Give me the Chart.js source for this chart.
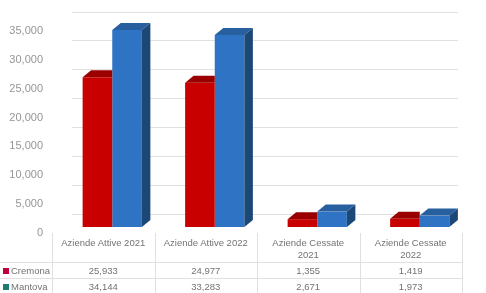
<!DOCTYPE html>
<html><head><meta charset="utf-8">
<script src="https://cdn.jsdelivr.net/npm/chart.js@4"></script>
<style>
html,body{margin:0;padding:0;background:#fff;}
#wrap{position:relative;width:486px;height:293px;overflow:hidden;background:#fff;}
canvas{position:absolute;left:0;top:0;}
.cell{position:absolute;font:9.5px "Liberation Sans",Arial,sans-serif;color:#737373;text-align:center;line-height:12px;white-space:nowrap;}
.lab{text-align:left;}
.vl{position:absolute;width:1px;background:#e0e0e0;}
.hl{position:absolute;height:1px;background:#e0e0e0;}
.key{position:absolute;width:6px;height:6px;}
</style></head>
<body><div id="wrap"><canvas id="c" width="486" height="293"></canvas><div id="tbl"></div></div>
<script>
const categories = [["Aziende Attive 2021"], ["Aziende Attive 2022"], ["Aziende Cessate", "2021"], ["Aziende Cessate", "2022"]];
const seriesNames = ["Cremona", "Mantova"];
const cremona = [25933, 24977, 1355, 1419];
const mantova = [34144, 33283, 2671, 1973];
const yTicks = [0, 5000, 10000, 15000, 20000, 25000, 30000, 35000];

const fmt = v => v.toLocaleString('en-US');
const DX = 8.5, DY = 7;

function poly(ctx, pts, color) {
  ctx.beginPath();
  ctx.moveTo(pts[0], pts[1]);
  for (let i = 2; i < pts.length; i += 2) ctx.lineTo(pts[i], pts[i + 1]);
  ctx.closePath();
  ctx.fillStyle = color;
  ctx.fill();
}

const backGrid = {
  id: 'backGrid',
  beforeDatasetsDraw(chart) {
    const ctx = chart.ctx, ys = chart.scales.y, a = chart.chartArea;
    ctx.save();
    ctx.strokeStyle = '#e0e0e0';
    ctx.lineWidth = 1;
    yTicks.forEach(v => {
      const y = Math.round(ys.getPixelForValue(v) - 13.5) + 0.5;
      ctx.beginPath();
      ctx.moveTo(a.left + 11, y);
      ctx.lineTo(a.right - 13, y);
      ctx.stroke();
    });
    ctx.restore();
  }
};

const bars3d = {
  id: 'bars3d',
  afterDatasetsDraw(chart) {
    const ctx = chart.ctx;
    const mR = chart.getDatasetMeta(0), mB = chart.getDatasetMeta(1);
    ctx.save();
    mR.data.forEach(bar => {
      const p = bar.getProps(['x', 'y', 'base', 'width'], true);
      const l = p.x - p.width / 2, r = p.x + p.width / 2;
      ctx.save();
      ctx.beginPath();
      ctx.rect(l - 1, p.y - DY - 2, r - l + 1, DY + 2.5);
      ctx.clip();
      poly(ctx, [l, p.y, l + DX, p.y - DY, r + DX, p.y - DY, r, p.y], '#9a0000');
      ctx.restore();
    });
    mB.data.forEach(bar => {
      const p = bar.getProps(['x', 'y', 'base', 'width'], true);
      const l = p.x - p.width / 2, r = p.x + p.width / 2;
      poly(ctx, [l, p.y, l + DX, p.y - DY, r + DX, p.y - DY, r, p.y], '#28609f');
      poly(ctx, [r, p.y, r + DX, p.y - DY, r + DX, p.base - DY, r, p.base], '#1c4878');
    });
    ctx.restore();
  }
};

new Chart(document.getElementById('c'), {
  type: 'bar',
  data: {
    labels: categories,
    datasets: [
      { label: seriesNames[0], data: cremona, backgroundColor: '#c80000', borderWidth: 0 },
      { label: seriesNames[1], data: mantova, backgroundColor: '#2f74c4', borderWidth: 0 }
    ]
  },
  options: {
    responsive: false,
    animation: false,
    devicePixelRatio: 1,
    layout: { padding: { left: 0, top: 25, right: 15, bottom: 66 } },
    datasets: { bar: { categoryPercentage: 0.578, barPercentage: 1.0 } },
    plugins: { legend: { display: false }, tooltip: { enabled: false } },
    scales: {
      x: { display: false },
      y: {
        min: 0, max: 35000,
        grid: { display: false, drawTicks: false },
        border: { display: false },
        afterFit: s => { s.width = 61; },
        ticks: {
          stepSize: 5000,
          padding: 18,
          labelOffset: 6,
          color: '#969696',
          font: { family: '"Liberation Sans", Arial, sans-serif', size: 11 },
          callback: v => fmt(v)
        }
      }
    }
  },
  plugins: [backGrid, bars3d]
});

// data table below the plot
const tbl = document.getElementById('tbl');
const colX = [0, 52, 154.5, 257, 359.5, 462];
function add(cls, style, html) {
  const d = document.createElement('div');
  d.className = cls;
  Object.assign(d.style, style);
  if (html !== undefined) d.innerHTML = html;
  tbl.appendChild(d);
  return d;
}
categories.forEach((c, i) => {
  add('cell', { left: colX[i + 1] + 'px', width: (colX[i + 2] - colX[i + 1]) + 'px', top: '237px' }, c.join('<br>'));
});
const rows = [[seriesNames[0], cremona, '#c0003a', 264], [seriesNames[1], mantova, '#1e7b72', 280]];
rows.forEach(([name, vals, col, top]) => {
  add('key', { left: '3px', top: (top + 3.5) + 'px', background: col });
  add('cell lab', { left: '11px', top: top + 'px', lineHeight: '13px' }, name);
  vals.forEach((v, i) => {
    add('cell', { left: colX[i + 1] + 'px', width: (colX[i + 2] - colX[i + 1]) + 'px', top: top + 'px', lineHeight: '13px' }, fmt(v));
  });
});
[262, 278].forEach(y => add('hl', { left: '0px', width: '462px', top: y + 'px' }));
colX.slice(1).forEach(x => add('vl', { left: Math.round(x) + 'px', top: '233px', height: '60px' }));
</script>
</body></html>
